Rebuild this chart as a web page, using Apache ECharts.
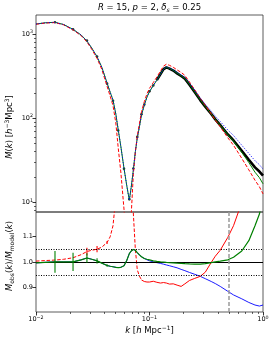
<!DOCTYPE html>
<html><head><meta charset="utf-8">
<script src="https://cdn.jsdelivr.net/npm/echarts@6/dist/echarts.min.js"></script>
<style>html,body{margin:0;padding:0;background:#fff}#c{width:274px;height:343px}</style>
</head><body><div id="c"></div>
<script>
const kVals = [0.0100,0.0120,0.0147,0.0175,0.0212,0.0250,0.0281,0.0310,0.0345,0.0380,0.0423,0.0450,0.0477,0.0505,0.0530,0.0560,0.0596,0.0630,0.0664,0.0690,0.0720,0.0750,0.0780,0.0815,0.0850,0.0900,0.0950,0.1000,0.1080,0.1160,0.1250,0.1330,0.1410,0.1500,0.1620,0.1750,0.1900,0.2050,0.2250,0.2500,0.2800,0.3100,0.3500,0.3800,0.4200,0.4900,0.5500,0.6500,0.7500,0.8500,0.9300,1.0000];
const obsM = [1310,1356,1378,1298,1137,981,838,688,539,402,257,200.5,160.9,109.6,71.4,44.5,25.0,16.0,10.9,15.7,25.2,41.6,59.9,80.8,111.2,144.9,179.8,208.7,245,283.6,334,382.6,402,388,368,341,317,295,250,204,164,137,112,96.8,82.6,64.0,54.3,40.9,32.1,26.0,23.2,20.7];
const greenM = [1315,1359,1378,1298,1137,973,826,681,537,404,261,204,164,112,73,45.5,25.4,15.9,10.6,15.1,24,39.8,57.8,78.7,109,143,178,207,244,283,334,383,403,389.2,369.5,342.7,318.9,297.1,252.0,205.9,165.5,138.0,112.3,96.8,82.4,63.5,53.3,39.3,29.7,22.8,19.6,16.6];
const redM = [1306,1349,1368,1285,1119,954,806,658,514,380,239,183,141,87.7,44.6,22.3,8.3,3.2,2.2,7.1,21.2,39.2,61.1,85.5,119.6,156.8,195.0,226.4,264.9,307.9,363.8,415.9,437.9,424.5,402.2,374.7,350.3,322.4,269.4,217.9,173.7,142.7,112.2,94.7,79.0,58.4,47.6,33.3,24.3,18.3,15.3,12.6];
const blueM = [1315,1359,1378,1298,1137,973,826,681,537,404,261,204,164,112,73,45.5,25.4,15.9,10.6,15.1,24,39.8,57.8,78.7,109,143,178.4,207.9,245,284.5,336,386.1,406.9,393.9,375.1,349.0,326.5,305.4,260.7,214.3,173.7,146.5,121.2,105.7,91.3,72.2,62.3,47.7,38.1,31.2,28.0,24.8];
const greenR = [0.996,0.998,1.000,1.000,1.000,1.008,1.015,1.010,1.004,0.995,0.986,0.983,0.981,0.979,0.978,0.979,0.985,1.005,1.032,1.042,1.048,1.045,1.036,1.027,1.020,1.013,1.010,1.008,1.004,1.002,1.000,0.999,0.998,0.997,0.996,0.995,0.994,0.993,0.992,0.991,0.991,0.993,0.997,1.000,1.003,1.008,1.018,1.042,1.082,1.140,1.185,1.245];
const blueR = [0.996,0.998,1.000,1.000,1.000,1.008,1.015,1.010,1.004,0.995,0.986,0.983,0.981,0.979,0.978,0.979,0.985,1.005,1.032,1.042,1.048,1.045,1.036,1.027,1.020,1.013,1.008,1.004,1.000,0.997,0.994,0.991,0.988,0.985,0.981,0.977,0.971,0.966,0.959,0.952,0.944,0.935,0.924,0.916,0.905,0.886,0.872,0.857,0.843,0.833,0.829,0.833];
const redR = [1.003,1.005,1.007,1.010,1.016,1.028,1.040,1.045,1.049,1.057,1.075,1.097,1.14,1.25,1.6,2.0,3.0,5.0,5.0,2.2,1.19,1.05,0.97,0.945,0.93,0.924,0.922,0.922,0.925,0.921,0.918,0.920,0.918,0.914,0.915,0.910,0.905,0.915,0.928,0.936,0.944,0.960,0.998,1.022,1.045,1.095,1.14,1.23,1.32,1.42,1.52,1.64];
const obsPtK = [0.0147,0.0212,0.0281,0.0345,0.0423,0.0477,0.0530,0.0596,0.0664,0.0720,0.0780,0.0850,0.0900,0.1000,0.1080];
const obsLineFromK = 0.116;
const errK = [0.0147,0.0212,0.0281,0.0345,0.0423];
const greenErr = [0.042,0.035,0.018,0.010,0.005];
const redErrK = [0.0281,0.0345,0.0423];
const redErr = [0.015,0.012,0.006];
const redDashUntilK = 0.085;
const xMajor = [0.01,0.1,1];
const xMinor = [0.02,0.03,0.04,0.05,0.06,0.07,0.08,0.09,0.2,0.3,0.4,0.5,0.6,0.7,0.8,0.9];
const yTopMajor = [10,100,1000];
const yTopMinor = [8,9,20,30,40,50,60,70,80,90,200,300,400,500,600,700,800,900];
const yBotMajor = [0.9,1.0,1.1];
const refDotted = [0.95,1.05];
const refSolid = [1.0];
const kCut = 0.5;

const FF = 'DejaVu Sans';
const pairs = (ys) => kVals.map((k,i)=>[k, ys[i]]);
const idx = (k) => kVals.indexOf(k);
const supRich = {
  b:{fontSize:6.5,fontFamily:FF,color:'#000',lineHeight:9},
  s:{fontSize:4.8,fontFamily:FF,color:'#000',lineHeight:5,verticalAlign:'top'}
};
const powLabel = (v) => { const e = Math.round(Math.log10(v)); return '{b|10}{s|' + (e<0?'\u2212'+(-e):e) + '}'; };

const GL = 36, GR = 11, T0 = 15, H0 = 197, T1 = 212, H1 = 100;
const axLine = {show:false};
function logX(grid, major, labels){
  return {type:'log', logBase:10, gridIndex:grid, position:'bottom', min:0.01, max:1,
    axisLine:axLine, splitLine:{show:false},
    axisTick: major ? {show:labels, customValues:xMajor, length:3.5, lineStyle:{color:'#000',width:0.8}}
                    : {show:labels, customValues:xMinor, length:2, lineStyle:{color:'#000',width:0.6}},
    axisLabel: (major && labels) ? {show:true, customValues:xMajor, formatter:powLabel, rich:supRich, margin:3} : {show:false}
  };
}
function errSeries(ks, ratio, errs, color, z){
  return {type:'custom',xAxisIndex:1,yAxisIndex:2,z:z,
    data:ks.map((k,i)=>[k,ratio[idx(k)]-errs[i],ratio[idx(k)]+errs[i]]),
    encode:{x:0,y:[1,2]},
    renderItem:(p,api)=>{const a=api.coord([api.value(0),api.value(1)]),b=api.coord([api.value(0),api.value(2)]);
      return {type:'line',shape:{x1:a[0],y1:a[1],x2:b[0],y2:b[1]},style:{stroke:color,lineWidth:1.1}};}};
}
const option = {
  animation:false,
  grid:[{left:GL,right:GR,top:T0,height:H0,show:true,borderColor:'#333',borderWidth:0.8},
        {left:GL,right:GR,top:T1,height:H1,show:true,borderColor:'#333',borderWidth:0.8}],
  xAxis:[logX(0,true,false), logX(1,true,true), logX(1,false,true)],
  yAxis:[
    {type:'log',logBase:10,gridIndex:0,position:'left',min:7.67,max:1683,axisLine:axLine,splitLine:{show:false},
     axisTick:{show:true,customValues:yTopMajor,length:3.5,lineStyle:{color:'#000',width:0.8}},
     axisLabel:{show:true,customValues:yTopMajor,formatter:powLabel,rich:supRich,margin:3}},
    {type:'log',logBase:10,gridIndex:0,position:'left',min:7.67,max:1683,axisLine:axLine,splitLine:{show:false},
     axisTick:{show:true,customValues:yTopMinor,length:2,lineStyle:{color:'#000',width:0.6}},
     axisLabel:{show:false}},
    {type:'value',gridIndex:1,position:'left',min:0.806,max:1.193,axisLine:axLine,splitLine:{show:false},
     axisTick:{show:true,customValues:yBotMajor,length:3.5,lineStyle:{color:'#000',width:0.8}},
     axisLabel:{show:true,customValues:yBotMajor,formatter:(v)=>v.toFixed(1),fontSize:6.5,fontFamily:FF,color:'#000',margin:3}}
  ],
  series:[
    {type:'line',xAxisIndex:0,yAxisIndex:0,data:pairs(obsM).filter(p=>p[0]>=obsLineFromK),symbol:'none',
     lineStyle:{color:'#000',width:2.6},z:2},
    {type:'scatter',xAxisIndex:0,yAxisIndex:0,data:obsPtK.map(k=>[k,obsM[idx(k)]]),symbol:'circle',symbolSize:2.6,
     itemStyle:{color:'#000'},z:2},
    {type:'line',xAxisIndex:0,yAxisIndex:0,data:pairs(greenM),symbol:'none',lineStyle:{color:'#008000',width:1},z:3},
    {type:'line',xAxisIndex:0,yAxisIndex:0,data:pairs(redM),symbol:'none',lineStyle:{color:'#ff0000',width:1,type:[3.5,1.8]},z:4},
    {type:'line',xAxisIndex:0,yAxisIndex:0,data:pairs(blueM),symbol:'none',lineStyle:{color:'#0000ff',width:1,type:[1,1.6]},z:5},

    {type:'line',xAxisIndex:1,yAxisIndex:2,data:pairs(blueR),symbol:'none',lineStyle:{color:'#0000ff',width:0.9},z:3,
     markLine:{silent:true,symbol:['none','none'],label:{show:false},animation:false,
       data:[
         ...refDotted.map(v=>({yAxis:v,lineStyle:{color:'#000',width:1,type:[1,1.5]}})),
         ...refSolid.map(v=>({yAxis:v,lineStyle:{color:'#000',width:1.1,type:'solid'}})),
         {xAxis:kCut,lineStyle:{color:'#9a9a9a',width:1.5,type:[4,2]}}
       ]}},
    {type:'line',xAxisIndex:1,yAxisIndex:2,data:pairs(redR).filter(p=>p[0]<=redDashUntilK),symbol:'none',
     lineStyle:{color:'#ff0000',width:1,type:[3.5,1.8]},z:4},
    {type:'line',xAxisIndex:1,yAxisIndex:2,data:pairs(redR).filter(p=>p[0]>=redDashUntilK),symbol:'none',
     lineStyle:{color:'#ff0000',width:1},z:4},
    errSeries(redErrK, redR, redErr, '#ff0000', 4),
    {type:'line',xAxisIndex:1,yAxisIndex:2,data:pairs(greenR),symbol:'none',lineStyle:{color:'#008000',width:1.2},z:5},
    errSeries(errK, greenR, greenErr, '#008000', 5)
  ],
  graphic:[
    {type:'text',x:149.5,y:8,style:{text:'{i|R} = 15, {i|p} = 2, {i|δ}{sub|s} = 0.25',align:'center',verticalAlign:'middle',
      fontSize:8.5,fontFamily:FF,fill:'#000',
      rich:{i:{fontSize:8.5,fontFamily:FF,fontStyle:'italic',lineHeight:11},
            sub:{fontSize:6,fontFamily:FF,fontStyle:'italic',lineHeight:6,verticalAlign:'bottom'}}}},
    {type:'text',x:10,y:127,rotation:Math.PI/2,style:{text:'{i|M}({i|k}) [{i|h}{sup|\u22123}Mpc{sup|3}]',align:'center',verticalAlign:'middle',
      fontSize:8.5,fontFamily:FF,fill:'#000',
      rich:{i:{fontSize:8.5,fontFamily:FF,fontStyle:'italic',lineHeight:11},
            sup:{fontSize:6,fontFamily:FF,lineHeight:6,verticalAlign:'top'}}}},
    {type:'text',x:10,y:256,rotation:Math.PI/2,style:{text:'{i|M}{sub|obs}({i|k})/{i|M}{sub|model}({i|k})',align:'center',verticalAlign:'middle',
      fontSize:8.5,fontFamily:FF,fill:'#000',
      rich:{i:{fontSize:8.5,fontFamily:FF,fontStyle:'italic',lineHeight:11},
            sub:{fontSize:6,fontFamily:FF,lineHeight:6,verticalAlign:'bottom'}}}},
    {type:'text',x:149.5,y:331,style:{text:'{i|k} [{i|h} Mpc{sup|\u22121}]',align:'center',verticalAlign:'middle',
      fontSize:8.5,fontFamily:FF,fill:'#000',
      rich:{i:{fontSize:8.5,fontFamily:FF,fontStyle:'italic',lineHeight:11},
            sup:{fontSize:6,fontFamily:FF,lineHeight:6,verticalAlign:'top'}}}}
  ]
};
const chart = echarts.init(document.getElementById('c'),null,{renderer:'canvas'});
chart.setOption(option);
</script></body></html>
